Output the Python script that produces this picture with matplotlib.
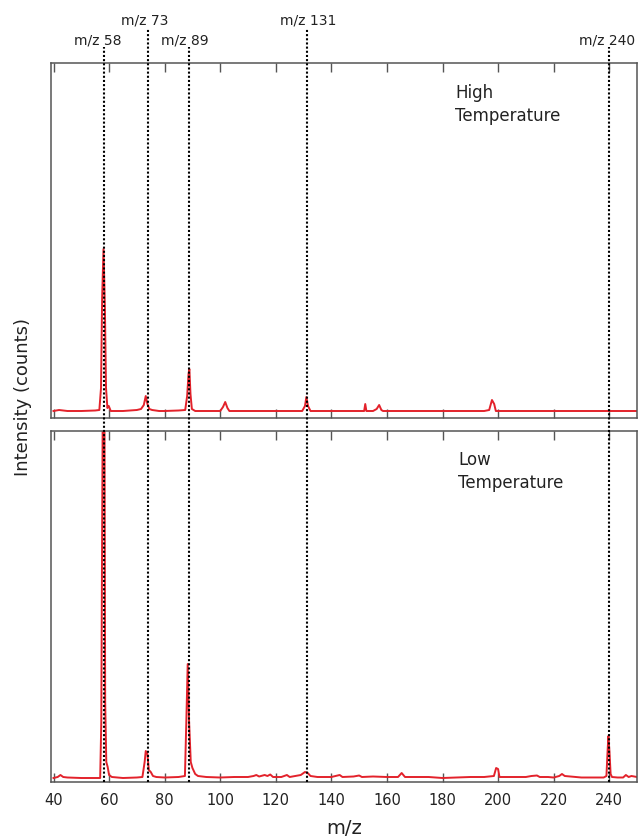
import matplotlib
matplotlib.use("Agg")
import matplotlib.pyplot as plt
from matplotlib.lines import Line2D
from matplotlib import transforms

# ---------------- data ----------------
high_mz = [40, 42, 45, 50, 55, 56.5, 57.1, 57.5, 58.0, 58.5, 58.9, 59.4, 59.9, 60.6,
           65, 70, 71.5, 72.5, 73.2, 73.8, 74.5, 75.5, 78, 80, 85, 87.4, 88.1, 88.6,
           88.9, 89.3, 89.8, 91, 95, 100, 101, 101.8, 102.6, 103.3, 110, 115, 120, 125,
           129.5, 130.5, 131.0, 131.6, 132.5, 140, 150, 151.8, 152.2, 152.6, 155,
           156.3, 157.2, 158.0, 158.6, 165, 180, 195, 196.8, 197.8, 198.6, 199.2,
           220, 240, 250]
high_int = [7, 8, 7, 7, 7.5, 8, 30, 120, 169, 110, 30, 10, 12, 7,
            7, 8, 9, 13, 22, 14, 9, 8, 7, 7, 7.5, 8, 22, 44,
            49, 24, 9, 7, 7, 7, 11, 16, 10, 7, 7, 7, 7, 7,
            7, 12, 21, 12, 7, 7, 7, 7, 14, 7, 7,
            9, 13, 8, 7, 7, 7, 7, 8, 18, 14, 7,
            7, 7, 7]

low_mz = [40, 41.5, 42.5, 43.5, 45, 50, 55, 56.8, 57.2, 57.5, 57.8, 58.3, 58.6, 59.0,
          59.5, 60.0, 61, 65, 70, 72, 72.8, 73.2, 73.8, 74.3, 75, 75.8, 77, 80, 85,
          87.3, 87.8, 88.3, 88.8, 89.4, 90, 91, 92, 95, 100, 105, 110, 112, 113, 114,
          116, 117, 118, 119, 122, 124, 125, 127, 129, 130.5, 131.5, 132.5, 135, 140,
          143, 144, 148, 150, 151, 155, 160, 164, 165.3, 166.5, 170, 175, 180, 185,
          190, 195, 198.5, 199.3, 200, 200.5, 205, 210, 212, 214, 215, 218, 220, 222,
          223, 224, 226, 228, 230, 235, 238, 239.0, 239.4, 239.7, 240.1, 240.5, 241,
          243, 245, 246, 247, 248, 250]
low_int = [4, 5, 7, 5, 4.5, 4, 4, 4, 60, 250, 420, 420, 80, 20,
           15, 7, 5, 4, 4.5, 5, 20, 31, 28, 12, 10, 6, 5, 4.5, 5,
           6, 60, 118, 60, 20, 14, 8, 6, 5, 4.5, 5, 5, 6, 7, 5.5,
           7, 6, 7.5, 5, 5, 7, 5, 6, 7, 10, 9, 6, 5, 5,
           7, 5, 5.5, 6.5, 5, 5.5, 5, 5, 9, 5, 5, 5, 4, 4.5,
           5, 5, 6, 14, 13, 5, 5, 5, 6, 6.5, 5, 5, 4.5, 6,
           8, 6, 5.5, 5, 4.5, 4.5, 4.5, 6, 30, 46, 30, 8, 5,
           4.5, 4.5, 7, 5, 6, 5]

marker_mz = [58.0, 73.9, 88.9, 131.4, 240.0]
marker_labels = ["m/z 58", "m/z 73", "m/z 89", "m/z 131", "m/z 240"]
label_offset = [-1.9, -1.2, -1.6, 0.2, -0.6]
label_level = ["low", "high", "low", "high", "low"]

xticks = [40, 60, 80, 100, 120, 140, 160, 180, 200, 220, 240]

# ---------------- figure ----------------
plt.rcParams['font.family'] = ['DejaVu Sans']
fig = plt.figure(figsize=(6.4, 8.37), dpi=100)
L, R = 51 / 640, 637 / 640
ax1 = fig.add_axes([L, 1 - 419 / 837, R - L, 355 / 837])
ax2 = fig.add_axes([L, 1 - 783 / 837, R - L, 351 / 837])

red = '#e3222b'
spine_col = '#555555'
for ax, mz, inten, ymax in [(ax1, high_mz, high_int, 355), (ax2, low_mz, low_int, 351)]:
    ax.plot(mz, inten, color=red, lw=1.4, solid_joinstyle='round')
    ax.set_xlim(39.1, 250)
    ax.set_ylim(0, ymax)
    ax.set_yticks([])
    ax.set_xticks(xticks)
    ax.tick_params(axis='x', direction='in', top=True, bottom=True, length=6.5,
                   width=1.0, color=spine_col, labelsize=10.5, pad=7,
                   labelcolor='#222222')
    for s in ax.spines.values():
        s.set_color(spine_col)
        s.set_linewidth(1.1)

ax1.tick_params(axis='x', labelbottom=False)
ax2.set_xlabel('m/z', fontsize=14, color='#222222', labelpad=8)

fig.text(23 / 640, 1 - 397 / 837, 'Intensity (counts)', rotation=90,
         ha='center', va='center', fontsize=13, color='#222222')

ax1.text(455 / 640, 1 - 84 / 837, 'High\nTemperature', transform=fig.transFigure,
         ha='left', va='top', fontsize=12, color='#222222', linespacing=1.35)
ax2.text(458 / 640, 1 - 451 / 837, 'Low\nTemperature', transform=fig.transFigure,
         ha='left', va='top', fontsize=12, color='#222222', linespacing=1.35)

# dotted marker lines spanning both panels
tr = transforms.blended_transform_factory(ax1.transData, fig.transFigure)
for mz, lab, off, lev in zip(marker_mz, marker_labels, label_offset, label_level):
    ytop = 1 - 29 / 837 if lev == 'high' else 1 - 48 / 837
    ytxt = 1 - 21 / 837 if lev == 'high' else 1 - 41 / 837
    ln = Line2D([mz, mz], [1 - 783 / 837, ytop], transform=tr, color='black',
                lw=1.5, linestyle=(0, (1, 1)), zorder=5)
    fig.add_artist(ln)
    fig.text(mz + off, ytxt, lab, transform=tr, ha='center', va='center',
             fontsize=10, color='#222222')

fig.savefig('out.png', dpi=100)
